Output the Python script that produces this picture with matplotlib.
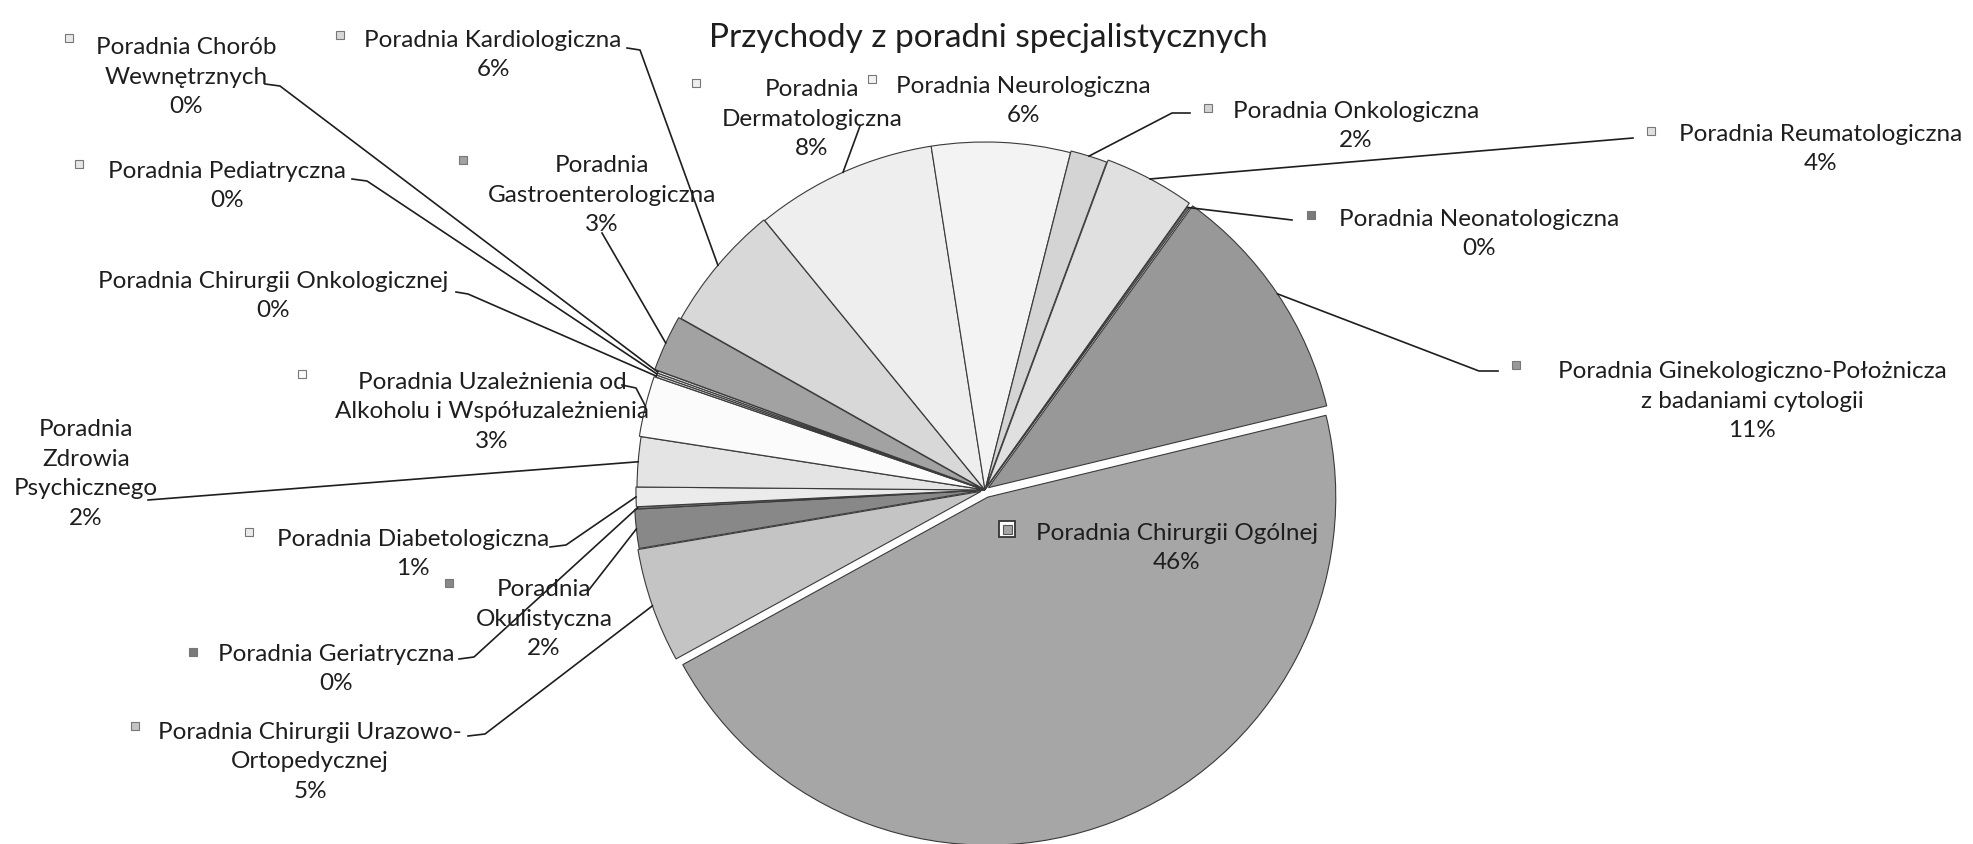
import matplotlib
matplotlib.use("Agg")
import matplotlib.pyplot as plt
import numpy as np

plt.rcParams['font.family'] = ['Lato', 'DejaVu Sans']

# ---- data (clockwise order, starting with Chirurgii Ogólnej) ----
categories = [
    "Poradnia Chirurgii Ogólnej",
    "Poradnia Chirurgii Urazowo-\nOrtopedycznej",
    "Poradnia\nOkulistyczna",
    "Poradnia Geriatryczna",
    "Poradnia Diabetologiczna",
    "Poradnia\nZdrowia\nPsychicznego",
    "Poradnia Uzależnienia od\nAlkoholu i Współuzależnienia",
    "Poradnia Chirurgii Onkologicznej",
    "Poradnia Pediatryczna",
    "Poradnia Chorób\nWewnętrznych",
    "Poradnia\nGastroenterologiczna",
    "Poradnia Kardiologiczna",
    "Poradnia\nDermatologiczna",
    "Poradnia Neurologiczna",
    "Poradnia Onkologiczna",
    "Poradnia Reumatologiczna",
    "Poradnia Neonatologiczna",
    "Poradnia Ginekologiczno-Położnicza\nz badaniami cytologii",
]
values = [45.6, 5.3, 1.8, 0.1, 0.9, 2.3, 2.8, 0.1, 0.1, 0.1,
          2.6, 5.9, 8.4, 6.4, 1.7, 4.2, 0.1, 11.2]
colors = ["#a6a6a6", "#c4c4c4", "#888888", "#7a7a7a", "#ebebeb", "#e4e4e4",
          "#fbfbfb", "#dddddd", "#e6e6e6", "#e9e9e9",
          "#a2a2a2", "#d8d8d8", "#eeeeee", "#f3f3f3", "#d4d4d4", "#e0e0e0",
          "#7a7a7a", "#989898"]
explode = [0.022, 0.012, 0.008, 0, 0.003, 0, 0.005, 0, 0, 0,
           0.01, 0.003, 0, 0, 0.005, 0.012, 0, 0.012]
title = "Przychody z poradni specjalistycznych"

W, H = 1973, 844
fig = plt.figure(figsize=(W / 100, H / 100), dpi=100)
ax = fig.add_axes([0, 0, 1, 1])

def Y(y):
    return H - y

CX, CY, R = 985, Y(490), 348
wedges, _ = ax.pie(values, colors=colors, explode=[e * R for e in explode],
                   radius=R, center=(CX, CY), startangle=13.6,
                   counterclock=False,
                   wedgeprops=dict(edgecolor="#3a3a3a", linewidth=0.8))
ax.set_xlim(0, W)
ax.set_ylim(0, H)
ax.set_aspect("equal")
ax.axis("off")

total = sum(values)
pcts = [f"{round(v / total * 100)}%" for v in values]

# layout: text centre (x, y), marker (x, y) or None, leader points from text side
layout = [
    ((1177, 548), (1007, 529), None),
    ((310, 762), (135, 726), [(468, 736), (485, 734)]),
    ((544, 619), (449, 583), [(588, 591)]),
    ((336, 669), (193, 652), [(459, 659), (474, 657)]),
    ((413, 554), (249, 532), [(550, 547), (566, 545)]),
    ((86, 474), None, [(148, 500)]),
    ((492, 412), (302, 374), [(622, 385), (636, 388)]),
    ((273, 296), None, [(456, 292), (468, 294)]),
    ((227, 186), (79, 164), [(352, 179), (367, 181)]),
    ((186, 77), (69, 38), [(265, 84), (280, 86)]),
    ((602, 195), (463, 160), [(602, 233)]),
    ((493, 55), (340, 35), [(627, 48), (640, 50)]),
    ((812, 119), (696, 83), [(860, 126)]),
    ((1023, 101), (872, 79), None),
    ((1356, 126), (1208, 108), [(1190, 113), (1172, 113)]),
    ((1821, 149), (1651, 131), [(1633, 138)]),
    ((1479, 234), (1311, 215), [(1292, 220)]),
    ((1752, 401), (1516, 365), [(1498, 371), (1479, 371)]),
]

fs = 17.5
for i, (w, (tpos, mpos, lead)) in enumerate(zip(wedges, layout)):
    ax.text(tpos[0], Y(tpos[1]), categories[i] + "\n" + pcts[i],
            ha="center", va="center", fontsize=fs, color="#1e1e1e",
            linespacing=1.5, zorder=5)
    if mpos is not None:
        if i == 0:
            ax.add_patch(plt.Rectangle((mpos[0] - 8, Y(mpos[1]) - 8), 16, 16,
                                       facecolor="white", edgecolor="#333",
                                       linewidth=1.3, zorder=6))
            ax.add_patch(plt.Rectangle((mpos[0] - 4.5, Y(mpos[1]) - 4.5), 9, 9,
                                       facecolor=colors[i], edgecolor="#555",
                                       linewidth=0.8, zorder=7))
        else:
            ax.add_patch(plt.Rectangle((mpos[0] - 4, Y(mpos[1]) - 4), 8, 8,
                                       facecolor=colors[i], edgecolor="#777",
                                       linewidth=0.8, zorder=6))
    if lead is not None:
        mid = np.deg2rad((w.theta1 + w.theta2) / 2)
        wc = w.center
        px = wc[0] + w.r * np.cos(mid)
        py = wc[1] + w.r * np.sin(mid)
        xs = [p[0] for p in lead] + [px]
        ys = [Y(p[1]) for p in lead] + [py]
        ax.plot(xs, ys, color="#1e1e1e", linewidth=1.2, zorder=4)

ax.text(988, Y(38), title, ha="center", va="center", fontsize=24,
        color="#1e1e1e")

fig.savefig("out.png", dpi=100, facecolor="white")
